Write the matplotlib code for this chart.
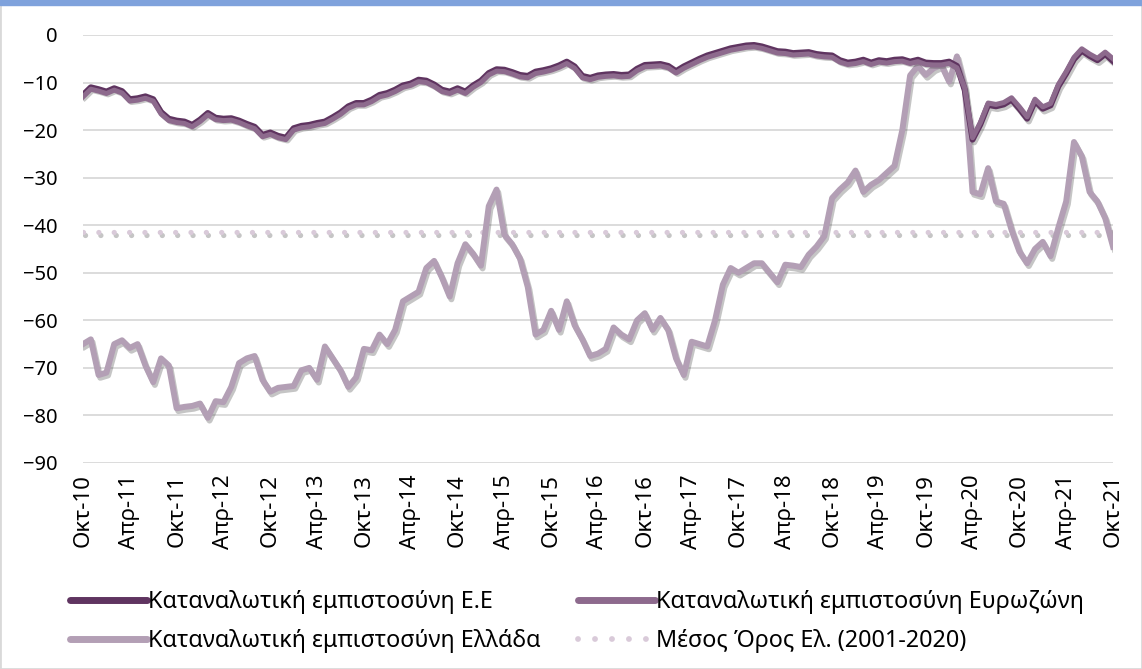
import matplotlib.pyplot as plt
import matplotlib.patheffects as pe
from matplotlib.lines import Line2D
from matplotlib.patches import Rectangle
import numpy as np

plt.rcParams['font.family'] = ['Noto Sans', 'DejaVu Sans']

# monthly values, Oct-2010 .. Oct-2021
eu = [-12.6, -11.0, -11.4, -11.9, -11.2, -11.8, -13.5, -13.3, -12.9, -13.5,
      -16.2, -17.6, -18.0, -18.2, -18.9, -17.8, -16.4, -17.4, -17.6, -17.5,
      -18.0, -18.7, -19.3, -21.0, -20.5, -21.2, -21.6, -19.6, -19.1, -18.9,
      -18.5, -18.2, -17.3, -16.3, -15.0, -14.3, -14.3, -13.6, -12.6, -12.2,
      -11.5, -10.6, -10.2, -9.4, -9.6, -10.4, -11.5, -11.9, -11.2, -11.9,
      -10.6, -9.6, -8.0, -7.2, -7.3, -7.8, -8.4, -8.6, -7.7, -7.4,
      -7.0, -6.4, -5.6, -6.6, -8.6, -9.0, -8.5, -8.3, -8.2, -8.4,
      -8.3, -7.1, -6.3, -6.2, -6.1, -6.5, -7.6, -6.6, -5.8, -5.0,
      -4.3, -3.8, -3.3, -2.8, -2.5, -2.2, -2.1, -2.4, -2.9, -3.4,
      -3.5, -3.8, -3.7, -3.6, -4.0, -4.2, -4.3, -5.3, -5.8, -5.6,
      -5.2, -5.8, -5.3, -5.5, -5.2, -5.1, -5.6, -5.2, -5.8, -5.9,
      -5.9, -5.6, -6.5, -11.6, -22.0, -18.8, -14.7, -15.0, -14.6, -13.6,
      -15.5, -17.6, -13.9, -15.5, -14.8, -10.8, -8.1, -5.1, -3.3, -4.4,
      -5.3, -4.0, -5.5]

eurozone = [-13.0, -11.4, -11.8, -12.3, -11.6, -12.2, -13.9, -13.7, -13.3, -13.9,
            -16.6, -18.0, -18.4, -18.6, -19.3, -18.2, -16.8, -17.8, -18.0, -17.9,
            -18.4, -19.1, -19.7, -21.4, -20.9, -21.6, -22.0, -20.0, -19.5, -19.3,
            -18.9, -18.6, -17.7, -16.7, -15.4, -14.7, -14.7, -14.0, -13.0, -12.6,
            -11.9, -11.0, -10.6, -9.8, -10.0, -10.8, -11.9, -12.3, -11.6, -12.3,
            -11.0, -10.0, -8.4, -7.6, -7.7, -8.2, -8.8, -9.0, -8.1, -7.8,
            -7.4, -6.8, -6.0, -7.0, -9.0, -9.4, -8.9, -8.7, -8.6, -8.8,
            -8.7, -7.5, -6.7, -6.6, -6.5, -6.9, -8.0, -7.0, -6.2, -5.4,
            -4.7, -4.2, -3.7, -3.2, -2.9, -2.6, -2.5, -2.8, -3.3, -3.8,
            -3.9, -4.2, -4.1, -4.0, -4.4, -4.6, -4.7, -5.7, -6.2, -6.0,
            -5.6, -6.2, -5.7, -5.9, -5.6, -5.5, -6.0, -5.6, -6.2, -6.3,
            -6.3, -6.0, -6.9, -11.2, -21.6, -18.4, -14.3, -14.6, -14.2, -13.2,
            -15.1, -17.2, -13.5, -15.1, -14.4, -10.4, -7.7, -4.7, -2.9, -4.0,
            -4.9, -3.6, -5.0]

greece = [-65.0, -64.0, -71.5, -71.0, -65.0, -64.2, -65.8, -65.0, -69.5, -73.0,
          -68.0, -69.5, -78.5, -78.2, -78.0, -77.5, -80.5, -77.0, -77.2, -74.0,
          -69.0, -68.0, -67.5, -72.5, -75.0, -74.2, -74.0, -73.8, -70.5, -70.0,
          -72.5, -65.5, -68.0, -70.5, -74.0, -72.0, -66.0, -66.3, -63.0, -65.0,
          -62.0, -56.0, -55.0, -54.0, -49.0, -47.5, -51.0, -55.0, -48.0, -44.0,
          -46.0, -48.5, -36.0, -32.5, -42.0, -44.0, -47.0, -53.0, -63.0, -62.0,
          -58.0, -62.0, -56.0, -61.0, -64.0, -67.5, -67.0, -66.0, -61.5, -63.0,
          -64.0, -60.0, -58.5, -62.0, -59.5, -62.0, -68.0, -71.5, -64.5, -65.0,
          -65.5, -60.0, -52.5, -49.0, -50.0, -49.0, -48.0, -48.0, -50.0, -52.0,
          -48.3, -48.5, -48.8, -46.2, -44.5, -42.3, -34.3, -32.5, -31.0, -28.5,
          -33.0, -31.5, -30.5, -29.0, -27.5, -20.0, -8.5, -6.5, -8.4, -7.0,
          -6.3, -9.8, -4.5, -11.0, -33.0, -33.5, -28.0, -35.0, -35.5, -41.0,
          -45.5, -48.0, -45.0, -43.5, -46.5, -40.5, -35.0, -22.5, -25.5, -33.0,
          -35.0, -38.5, -44.5]

greece_mean = -41.4

tick_labels = ['Οκτ-10', 'Απρ-11', 'Οκτ-11', 'Απρ-12', 'Οκτ-12', 'Απρ-13',
               'Οκτ-13', 'Απρ-14', 'Οκτ-14', 'Απρ-15', 'Οκτ-15', 'Απρ-16',
               'Οκτ-16', 'Απρ-17', 'Οκτ-17', 'Απρ-18', 'Οκτ-18', 'Απρ-19',
               'Οκτ-19', 'Απρ-20', 'Οκτ-20', 'Απρ-21', 'Οκτ-21']

labels = ['Καταναλωτική εμπιστοσύνη Ε.Ε',
          'Καταναλωτική εμπιστοσύνη Ευρωζώνη',
          'Καταναλωτική εμπιστοσύνη Ελλάδα',
          'Μέσος Όρος Ελ. (2001-2020)']

c_eu, c_ez, c_gr, c_mean = '#5f3460', '#8d6a8d', '#b39fb5', '#d9cad9'

x = np.arange(len(eu))

fig = plt.figure(figsize=(11.42, 6.69), dpi=100)
ax = fig.add_axes([83 / 1142, 1 - 463 / 669, 1030 / 1142, 428 / 669])

shadow = [pe.SimpleLineShadow(offset=(1.2, -2.0), shadow_color='#404040', alpha=0.3),
          pe.Normal()]

ax.axhline(greece_mean, color=c_mean, lw=3.8, linestyle=(0, (0.01, 2.9)),
           dash_capstyle='round', zorder=2, path_effects=shadow)
ax.plot(x, greece, color=c_gr, lw=4.3, solid_joinstyle='round',
        path_effects=shadow, zorder=3)
ax.plot(x, eu, color=c_eu, lw=4.3, solid_joinstyle='round',
        path_effects=shadow, zorder=4)
ax.plot(x, eurozone, color=c_ez, lw=3.6, solid_joinstyle='round', zorder=5)

ax.set_xlim(0, len(eu) - 1)
ax.set_ylim(-90, 0)
ax.set_yticks(np.arange(-90, 1, 10))
ax.set_xticks(x[::6])
ax.set_xticklabels(tick_labels, rotation=90)
ax.tick_params(axis='y', length=0, pad=18, labelsize=14.5)
ax.tick_params(axis='x', length=0, pad=8, labelsize=16)
ax.grid(axis='y', color='#d9d9d9', lw=1.3)
ax.set_axisbelow(True)
for s in ax.spines.values():
    s.set_visible(False)

handles = [Line2D([], [], color=c_eu, lw=5, solid_capstyle='round'),
           Line2D([], [], color=c_gr, lw=5, solid_capstyle='round'),
           Line2D([], [], color=c_ez, lw=5, solid_capstyle='round'),
           Line2D([], [], color=c_mean, lw=4.2, linestyle=(0, (0.01, 2.9)),
                  dash_capstyle='round')]
fig.legend(handles, [labels[0], labels[2], labels[1], labels[3]], ncol=2,
           loc='upper left', bbox_to_anchor=(70 / 1142, 1 - 590 / 669),
           frameon=False, fontsize=16.8, handlelength=3.3, handletextpad=0.05,
           columnspacing=1.6, labelspacing=0.65, borderpad=0, borderaxespad=0)

# frame and top band
fig.patches.append(Rectangle((0, 0), 1, 1, transform=fig.transFigure, fill=False,
                             edgecolor='#d9d9d9', lw=2))
fig.patches.append(Rectangle((0, 1 - 5 / 669), 1, 5 / 669, transform=fig.transFigure,
                             color='#7fa2dc'))

fig.savefig('out.png', dpi=100)
